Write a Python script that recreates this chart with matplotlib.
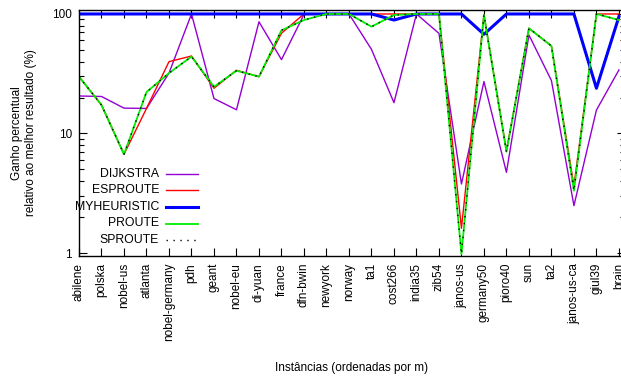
import matplotlib
matplotlib.use("Agg")
import matplotlib.pyplot as plt
from matplotlib.ticker import LogLocator, NullFormatter, FixedLocator

plt.rcParams['font.family'] = ['Liberation Sans', 'DejaVu Sans']

instances = ["abilene", "polska", "nobel-us", "atlanta", "nobel-germany", "pdh",
             "geant", "nobel-eu", "di-yuan", "france", "dfn-bwin", "newyork",
             "norway", "ta1", "cost266", "india35", "zib54", "janos-us",
             "germany50", "pioro40", "sun", "ta2", "janos-us-ca", "giul39", "brain"]

dijkstra = [20.6, 20.4, 16.3, 16.2, 32, 100, 19.6, 15.8, 86, 41.5, 99, 100,
            100, 50.6, 18.1, 100, 68.8, 3.78, 27.2, 4.73, 66.7, 27.7, 2.49, 15.7, 34]
esproute = [29.9, 17.3, 6.7, 16.2, 39.9, 44.5, 23.9, 33.8, 29.9, 69, 100, 100,
            100, 100, 100, 100, 100, 1.61, 99, 7.2, 75.9, 54, 3.64, 100, 100]
myheuristic = [100, 100, 100, 100, 100, 100, 100, 100, 100, 100, 100, 100,
               100, 100, 89, 100, 100, 100, 67.6, 100, 100, 100, 100, 23.9, 95]
proute = [29.9, 17.3, 6.7, 22.2, 32, 44, 24.6, 33.5, 29.9, 73, 89, 100,
          100, 78.3, 98, 100, 100, 0.98, 98, 7.04, 75.9, 54, 3.32, 100, 89]
sproute = proute

series = [
    ("DIJKSTRA", dijkstra, dict(color="#9400D3", lw=1.0, ls="-")),
    ("ESPROUTE", esproute, dict(color="#FF0000", lw=1.0, ls="-")),
    ("MYHEURISTIC", myheuristic, dict(color="#0000FF", lw=2.2, ls="-")),
    ("PROUTE", proute, dict(color="#00EE00", lw=1.3, ls="-")),
    ("SPROUTE", sproute, dict(color="#000000", lw=1.0, ls=(0, (1, 4)))),
]

FS = 8.5
W, H = 621, 378
fig = plt.figure(figsize=(W / 100, H / 100), dpi=100)
left, right, top, bottom = 79, 625, 9.5, 256
ax = fig.add_axes([left / W, 1 - bottom / H, (right - left) / W, (bottom - top) / H])

x = list(range(len(instances)))
for name, vals, st in series:
    ax.plot(x, vals, **st)

ax.set_yscale("log")
ax.set_ylim(0.944, 109)
ax.set_xlim(0, 24.27)
ax.set_xticks(x)
ax.set_xticklabels(instances, rotation=90, fontsize=FS)
ax.yaxis.set_major_locator(FixedLocator([1, 10, 100]))
ax.set_yticklabels(["1", "10", "100"], fontsize=FS)
ax.yaxis.set_minor_locator(LogLocator(base=10, subs=range(2, 10)))
ax.yaxis.set_minor_formatter(NullFormatter())
ax.tick_params(which="both", direction="in", top=True, right=True)
ax.tick_params(which="major", length=6, width=0.8, pad=5)
ax.tick_params(which="minor", length=3.5, width=0.8)
ax.tick_params(axis="x", pad=5)
for s in ax.spines.values():
    s.set_linewidth(1.0)

# gnuplot-style key: right-aligned labels, samples to the right
key_text_x = (159 - left) / (right - left)
key_l0 = (166 - left) / (right - left)
key_l1 = (198 - left) / (right - left)
for i, (name, vals, st) in enumerate(series):
    ypix = 173.7 + i * 16.6
    yf = (bottom - ypix) / (bottom - top)
    ax.text(key_text_x, yf, name, transform=ax.transAxes, ha="right",
            va="center", fontsize=FS + 0.3)
    ax.plot([key_l0, key_l1], [yf, yf], transform=ax.transAxes, **st)

fig.text(((left + right) / 2) / W, 1 - 368 / H, "Instâncias (ordenadas por m)",
         ha="center", va="center", fontsize=FS)
fig.text(24 / W, 1 - 133 / H, "Ganho percentual\nrelativo ao melhor resultado (%)",
         ha="center", va="center", rotation=90, fontsize=FS, linespacing=1.3)

fig.savefig("out.png", dpi=100)
